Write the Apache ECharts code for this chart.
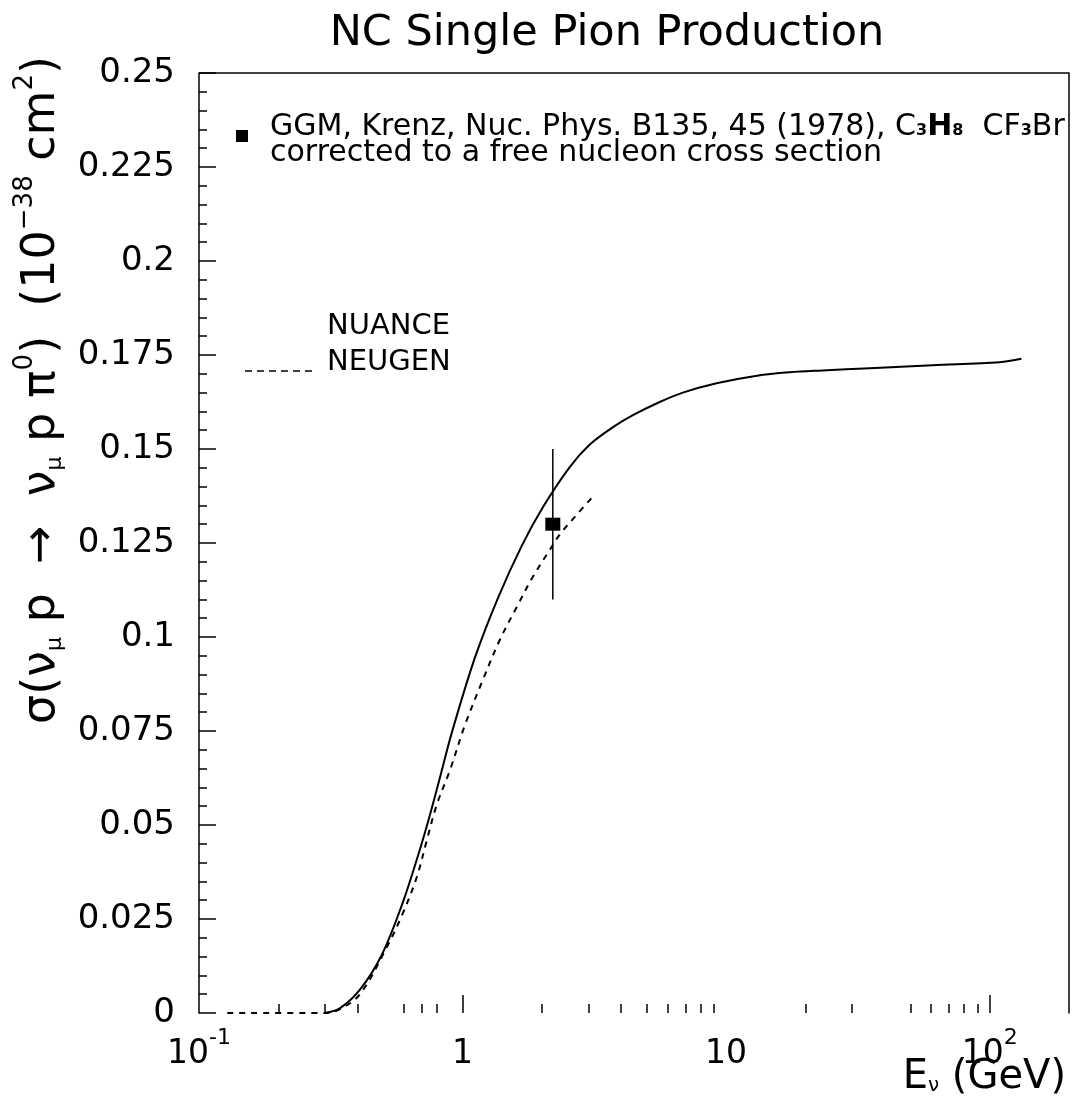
<!DOCTYPE html>
<html>
<head>
<meta charset="utf-8">
<script src="https://cdn.jsdelivr.net/npm/echarts@6/dist/echarts.min.js"></script>
<style>
  html, body { margin: 0; padding: 0; background: #fff; }
  #chart { width: 1074px; height: 1102px; }
</style>
</head>
<body>
<div id="chart"></div>
<script>
// NUANCE prediction: neutrino energy (GeV) and cross section (1e-38 cm^2)
const nuanceE = [0.30, 0.343, 0.408, 0.494, 0.594, 0.689, 0.751, 0.820, 0.910, 1.114, 1.361, 1.679, 2.017, 2.55, 3.04, 3.72, 4.43, 5.60, 6.85, 9.20, 13.1, 17.4, 23.2, 35.1, 60.7, 109, 132];
const nuanceXsec = [0, 0.0013, 0.0062, 0.0155, 0.0295, 0.0435, 0.0525, 0.0625, 0.0745, 0.0945, 0.1103, 0.1243, 0.1345, 0.1452, 0.1512, 0.1558, 0.1590, 0.1625, 0.1650, 0.1675, 0.1695, 0.1704, 0.1709, 0.1715, 0.1723, 0.1731, 0.1740];

// NEUGEN prediction
const neugenE = [0.128, 0.30, 0.343, 0.408, 0.516, 0.594, 0.671, 0.732, 0.799, 0.896, 1.020, 1.194, 1.384, 1.606, 1.848, 2.14, 2.34, 2.71, 3.09];
const neugenXsec = [0, 0, 0.001, 0.005, 0.0175, 0.0266, 0.0362, 0.046, 0.0555, 0.0646, 0.0765, 0.0886, 0.0992, 0.108, 0.116, 0.1231, 0.1273, 0.1325, 0.137];

// GGM measurement (Krenz et al.)
const ggmE = [2.2];
const ggmXsec = [0.13];
const ggmErr = [0.02];

// Axis ticks and labels
const xLabelValues = [0.1, 1, 10, 100];
const xLabelMantissa = ['10', '1', '10', '10'];
const xLabelExponent = ['-1', '', '', '2'];
const xMajorTicks = [1, 100];
const xMinorTicks = [0.2, 0.3, 0.4, 0.6, 0.7, 0.8, 2, 3, 4, 5, 6, 7, 8, 9, 20, 30, 50, 60, 70, 80, 90];

const FONT = '"DejaVu Sans", sans-serif';
const GRID = { left: 199, top: 73, right: 5, bottom: 89 };
const W = 1074, H = 1102;
const gridHeight = H - GRID.top - GRID.bottom;

const chart = echarts.init(document.getElementById('chart'), null, { renderer: 'canvas' });

function xLabel(v) {
  let idx = 0, best = Infinity;
  xLabelValues.forEach((lv, i) => {
    const d = Math.abs(Math.log10(v) - Math.log10(lv));
    if (d < best) { best = d; idx = i; }
  });
  const m = '{m|' + xLabelMantissa[idx] + '}';
  return xLabelExponent[idx] ? m + '{e|' + xLabelExponent[idx] + '}' : m;
}

const frameLine = { show: true, lineStyle: { color: '#000', width: 1.5 } };

const option = {
  backgroundColor: '#fff',
  animation: false,
  title: {
    text: 'NC Single Pion Production',
    left: 602,
    top: 7,
    textAlign: 'center',
    textStyle: { fontFamily: FONT, fontSize: 43, fontWeight: 'normal', color: '#000' }
  },
  grid: {
    left: GRID.left, top: GRID.top, right: GRID.right, bottom: GRID.bottom,
    show: false
  },
  xAxis: [
    {
      type: 'log', logBase: 10, min: 0.1, max: 200, position: 'bottom',
      axisLine: { show: false },
      axisTick: { show: true, inside: true, length: 18, customValues: xMajorTicks, lineStyle: { color: '#000', width: 1.5 } },
      axisLabel: {
        show: true, customValues: xLabelValues, margin: 14,
        formatter: xLabel,
        rich: {
          m: { fontFamily: FONT, fontSize: 33, color: '#000', lineHeight: 44, verticalAlign: 'bottom' },
          e: { fontFamily: FONT, fontSize: 22, color: '#000', lineHeight: 22, verticalAlign: 'top' }
        }
      },
      splitLine: { show: false },
      minorTick: { show: false }
    },
    {
      // minor ticks along the bottom edge
      type: 'log', logBase: 10, min: 0.1, max: 200, position: 'top', offset: -gridHeight,
      axisLine: { show: false },
      axisTick: { show: true, inside: false, length: 9, customValues: xMinorTicks, lineStyle: { color: '#000', width: 1.5 } },
      axisLabel: { show: false },
      splitLine: { show: false }
    }
  ],
  yAxis: [
    {
      type: 'value', min: 0, max: 0.25, interval: 0.025, position: 'left',
      axisLine: frameLine,
      axisTick: { show: true, inside: true, length: 17, lineStyle: { color: '#000', width: 1.5 } },
      minorTick: { show: true, splitNumber: 5, length: 8, lineStyle: { color: '#000', width: 1.5 } },
      axisLabel: { fontFamily: FONT, fontSize: 34, color: '#000', margin: 24 },
      splitLine: { show: false }
    },
    {
      // right frame edge
      type: 'value', min: 0, max: 0.25, interval: 0.025, position: 'right',
      axisLine: frameLine,
      axisTick: { show: false },
      axisLabel: { show: false },
      splitLine: { show: false }
    }
  ],
  graphic: [
    // top frame edge
    {
      type: 'line', shape: { x1: GRID.left, y1: GRID.top, x2: W - GRID.right, y2: GRID.top },
      style: { stroke: '#000', lineWidth: 1.5 }
    },
    // y axis title
    {
      type: 'text', x: 42, y: 390, rotation: Math.PI / 2,
      style: {
        text: '{t|σ(ν}{sub|μ}{t| p  →  ν}{sub|μ}{t| p π}{sup|0}{t|)  (10}{sup|−38}{t| cm}{sup|2}{t|)}',
        align: 'center', verticalAlign: 'middle',
        rich: {
          t: { fontFamily: FONT, fontSize: 46, fill: '#000', lineHeight: 60, verticalAlign: 'middle' },
          sub: { fontFamily: FONT, fontSize: 22, fill: '#000', lineHeight: 22, verticalAlign: 'bottom', padding: [0, 0, 6, 0] },
          sup: { fontFamily: FONT, fontSize: 26, fill: '#000', lineHeight: 26, verticalAlign: 'top' }
        }
      }
    },
    // x axis title
    {
      type: 'text', x: 1066, y: 1078,
      style: {
        text: '{t|E}{sub|ν}{t| (GeV)}',
        align: 'right', verticalAlign: 'middle',
        rich: {
          t: { fontFamily: FONT, fontSize: 40, fill: '#000', lineHeight: 48, verticalAlign: 'middle' },
          sub: { fontFamily: FONT, fontSize: 20, fill: '#000', lineHeight: 20, verticalAlign: 'bottom', padding: [0, 0, 6, 0] }
        }
      }
    },
    // legend: data
    { type: 'rect', shape: { x: 236, y: 130, width: 12, height: 12 }, style: { fill: '#000' } },
    {
      type: 'text', x: 270, y: 127,
      style: {
        text: '{a|GGM, Krenz, Nuc. Phys. B135, 45 (1978), C}{s|3}{b|H}{s|8}{a|  CF}{s|3}{a|Br}',
        align: 'left', verticalAlign: 'middle',
        rich: {
          a: { fontFamily: FONT, fontSize: 30, fill: '#000', lineHeight: 32 },
          b: { fontFamily: FONT, fontSize: 30, fontWeight: 'bold', fill: '#000', lineHeight: 32 },
          s: { fontFamily: FONT, fontSize: 16, fontWeight: 'bold', fill: '#000', lineHeight: 16, verticalAlign: 'bottom', padding: [0, 0, 4, 0] }
        }
      }
    },
    {
      type: 'text', x: 270, y: 153,
      style: { text: 'corrected to a free nucleon cross section', fontFamily: FONT, fontSize: 30, fill: '#000', align: 'left', verticalAlign: 'middle' }
    },
    // legend: models
    {
      type: 'text', x: 327, y: 326,
      style: { text: 'NUANCE', fontFamily: FONT, fontSize: 29, fill: '#000', align: 'left', verticalAlign: 'middle' }
    },
    {
      type: 'text', x: 327, y: 362,
      style: { text: 'NEUGEN', fontFamily: FONT, fontSize: 29, fill: '#000', align: 'left', verticalAlign: 'middle' }
    },
    {
      type: 'line', shape: { x1: 245, y1: 371, x2: 316, y2: 371 },
      style: { stroke: '#000', lineWidth: 1.5, lineDash: [7, 5] }
    }
  ],
  series: [
    {
      name: 'NUANCE', type: 'line', xAxisIndex: 0, yAxisIndex: 0,
      data: nuanceE.map((e, i) => [e, nuanceXsec[i]]),
      showSymbol: false, smooth: 0.35,
      lineStyle: { color: '#000', width: 2 }
    },
    {
      name: 'NEUGEN', type: 'line', xAxisIndex: 0, yAxisIndex: 0,
      data: neugenE.map((e, i) => [e, neugenXsec[i]]),
      showSymbol: false, smooth: 0.35,
      lineStyle: { color: '#000', width: 2, type: [6, 6] }
    },
    {
      name: 'GGM error', type: 'custom', xAxisIndex: 0, yAxisIndex: 0,
      data: ggmE.map((e, i) => [e, ggmXsec[i] - ggmErr[i], ggmXsec[i] + ggmErr[i]]),
      encode: { x: 0, y: [1, 2] },
      renderItem: function (params, api) {
        const lo = api.coord([api.value(0), api.value(1)]);
        const hi = api.coord([api.value(0), api.value(2)]);
        return {
          type: 'line',
          shape: { x1: lo[0], y1: lo[1], x2: hi[0], y2: hi[1] },
          style: { stroke: '#000', lineWidth: 1.5 }
        };
      }
    },
    {
      name: 'GGM', type: 'scatter', xAxisIndex: 0, yAxisIndex: 0,
      data: ggmE.map((e, i) => [e, ggmXsec[i]]),
      symbol: 'rect', symbolSize: [15, 13],
      itemStyle: { color: '#000', opacity: 1 }
    }
  ]
};

chart.setOption(option);
</script>
</body>
</html>
